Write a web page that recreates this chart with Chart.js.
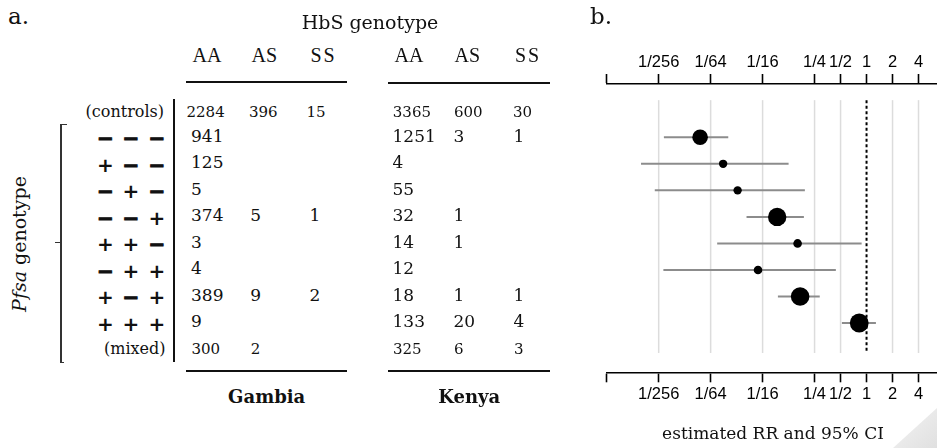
<!DOCTYPE html>
<html><head><meta charset="utf-8">
<script src="https://cdn.jsdelivr.net/npm/chart.js@4/dist/chart.umd.min.js"></script>
<style>
html,body{margin:0;padding:0;width:937px;height:448px;overflow:hidden;background:#fff;}
#root{position:relative;width:937px;height:448px;overflow:hidden;background:#fff;}
.t{position:absolute;white-space:nowrap;line-height:1;color:#111;}
.ln{position:absolute;background:#111;}
#chartBox{position:absolute;left:560px;top:0;width:440px;height:448px;}
#curl{position:absolute;left:893px;top:408px;width:44px;height:40px;background:linear-gradient(135deg,#f4f4f4,#e0e0e0);clip-path:polygon(100% 0,100% 100%,0 100%);}
</style></head><body><div id="root">
<div id="curl"></div>
<div id="chartBox"><canvas id="c" width="440" height="448"></canvas></div>
</div>
<script>
// ---------- data ----------
const hbsGenotypes = ['AA', 'AS', 'SS'];
const countries = ['Gambia', 'Kenya'];
const pfsaGenotypes = [
  ['−','−','−'], ['+','−','−'], ['−','+','−'], ['−','−','+'],
  ['+','+','−'], ['−','+','+'], ['+','−','+'], ['+','+','+']
];
const gambiaControls = [2284, 396, 15];
const kenyaControls  = [3365, 600, 30];
const gambiaCases = [[941,null,null],[125,null,null],[5,null,null],[374,5,1],[3,null,null],[4,null,null],[389,9,2],[9,null,null]];
const kenyaCases  = [[1251,3,1],[4,null,null],[55,null,null],[32,1,null],[14,1,null],[12,null,null],[18,1,1],[133,20,4]];
const gambiaMixed = [300, 2, null];
const kenyaMixed  = [325, 6, 3];

// estimated relative risk and 95% CI, one per Pfsa genotype row
const rrEstimate = [0.0118, 0.0218, 0.0321, 0.0922, 0.159, 0.0553, 0.170, 0.823];
const rrLower    = [0.00449, 0.00244, 0.00352, 0.0407, 0.0186, 0.00443, 0.0940, 0.518];
const rrUpper    = [0.0250, 0.125, 0.193, 0.188, 0.877, 0.441, 0.287, 1.284];

const rrTicks      = [1/1024, 1/256, 1/64, 1/16, 1/4, 1/2, 1, 2, 4, 8];
const rrTickLabels = ['', '1/256', '1/64', '1/16', '1/4', '1/2', '1', '2', '4', ''];

// ---------- table (panel a) ----------
const root = document.getElementById('root');
const FAM = {
  'DejaVu Serif': '"DejaVu Serif", serif',
  'DejaVu Sans': '"DejaVu Sans", sans-serif',
  'Liberation Serif': '"Liberation Serif", "Times New Roman", serif',
  'Liberation Sans': '"Liberation Sans", Arial, sans-serif'
};
const ASC = {'DejaVu Serif':0.846, 'DejaVu Sans':0.846, 'Liberation Serif':0.8375, 'Liberation Sans':0.847};
function txt(s, x, base, fam, size, align, extra){
  const d = document.createElement('div');
  d.className = 't'; d.textContent = s;
  d.style.fontFamily = FAM[fam];
  d.style.fontSize = size + 'px';
  d.style.left = x + 'px';
  d.style.top = (base - ASC[fam]*size) + 'px';
  if (align === 'center') d.style.transform = 'translateX(-50%)';
  else if (align === 'right') d.style.transform = 'translateX(-100%)';
  if (extra) Object.assign(d.style, extra);
  root.appendChild(d); return d;
}
function rule(x1, y, x2, h, color){
  const d = document.createElement('div'); d.className = 'ln';
  d.style.left = x1 + 'px'; d.style.top = y + 'px';
  d.style.width = (x2 - x1) + 'px'; d.style.height = h + 'px';
  if (color) d.style.background = color;
  root.appendChild(d);
}
function vrule(x, y1, y2, w, color){
  const d = document.createElement('div'); d.className = 'ln';
  d.style.left = x + 'px'; d.style.top = y1 + 'px';
  d.style.width = w + 'px'; d.style.height = (y2 - y1) + 'px';
  if (color) d.style.background = color;
  root.appendChild(d);
}

txt('a.', 8, 24, 'DejaVu Serif', 23);
txt('b.', 590, 24.5, 'DejaVu Serif', 23);
txt('HbS genotype', 370, 29.5, 'DejaVu Serif', 19, 'center');

const colX = { Gambia: [191, 250.3, 309.5], Kenya: [392.5, 453.5, 513.5] };
const headX = { Gambia: [192.5, 251.5, 310.5], Kenya: [394.5, 454.5, 515] };
const ctrlX = { Gambia: [186.5, 249, 306.5], Kenya: [392.8, 454, 513] };
const controls = { Gambia: gambiaControls, Kenya: kenyaControls };
const cases = { Gambia: gambiaCases, Kenya: kenyaCases };
const mixed = { Gambia: gambiaMixed, Kenya: kenyaMixed };
const underline = { Gambia: [185.7, 347.3], Kenya: [388.3, 550] };
const countryCenter = { Gambia: 266.7, Kenya: 469.2 };

const rowBase0 = 142.3, rowPitch = 26.5;
countries.forEach(c => {
  hbsGenotypes.forEach((g, j) => txt(g, headX[c][j], 61.7, 'Liberation Serif', 20, null, {letterSpacing: g === 'SS' ? '2px' : '0px'}));
  rule(underline[c][0], c === 'Gambia' ? 81.4 : 82.2, underline[c][1], 2);
  controls[c].forEach((v, j) => { if (v != null) txt(String(v), ctrlX[c][j], 117.3, 'DejaVu Serif', 15); });
  cases[c].forEach((row, i) => row.forEach((v, j) => {
    if (v != null) txt(String(v), colX[c][j], rowBase0 + i*rowPitch, 'DejaVu Serif', 17);
  }));
  mixed[c].forEach((v, j) => { if (v != null) txt(String(v), colX[c][j] + 0.5, rowBase0 + 8*rowPitch, 'DejaVu Serif', 15); });
  rule(underline[c][0], 369.8, underline[c][1], 1.8);
  txt(c, countryCenter[c], 403.3, 'DejaVu Serif', 18, 'center', {fontWeight: 'bold'});
});

txt('(controls)', 164, 117.3, 'DejaVu Serif', 16, 'right');
txt('(mixed)', 165.5, rowBase0 + 8*rowPitch, 'DejaVu Serif', 16, 'right');
const symX = [105.3, 131, 157];
pfsaGenotypes.forEach((row, i) => row.forEach((s, j) => {
  const d = txt(s, symX[j], 137.8 + i*rowPitch + 0.36*20, 'DejaVu Sans', 20, 'center', {fontWeight: 'bold', color: '#111'});
  if (s === '−') d.style.webkitTextStroke = '1px #111';
}));
vrule(172.6, 99, 361.5, 2);
// bracket for Pfsa genotype
vrule(60.4, 124, 363.2, 1.3, '#333');
rule(60.4, 123.8, 67, 1.3, '#333');
rule(60.4, 362, 64.5, 1.3, '#333');
rule(54.5, 241.7, 61, 1.3, '#333');
const pf = document.createElement('div');
pf.className = 't';
pf.style.fontFamily = FAM['DejaVu Serif']; pf.style.fontSize = '19px';
pf.style.left = '19.4px'; pf.style.top = '244px';
pf.style.transform = 'translate(-50%,-50%) rotate(-90deg)';
pf.innerHTML = '<i>Pfsa</i> genotype';
root.appendChild(pf);

txt('estimated RR and 95% CI', 773, 439, 'DejaVu Serif', 17, 'center');

// ---------- forest plot (panel b) ----------
const pointRadii = [7.8, 4.2, 4.2, 9.2, 4.3, 4.3, 9.3, 9.4];
const rows = rrEstimate.map((_, i) => i + 1);

const refLines = {
  id: 'refLines',
  beforeDatasetsDraw(chart){
    const {ctx, scales: {x, y}} = chart;
    const top = y.getPixelForValue(-0.4), bot = y.getPixelForValue(9.13);
    ctx.save();
    ctx.strokeStyle = '#dcdcdc'; ctx.lineWidth = 1.5;
    rrTicks.slice(1, -1).forEach(v => {
      if (v === 1) return;
      const px = x.getPixelForValue(v);
      ctx.beginPath(); ctx.moveTo(px, top); ctx.lineTo(px, bot); ctx.stroke();
    });
    ctx.strokeStyle = '#000'; ctx.lineWidth = 2; ctx.setLineDash([3, 2.5]);
    const p1 = x.getPixelForValue(1);
    ctx.beginPath(); ctx.moveTo(p1, top); ctx.lineTo(p1, bot); ctx.stroke();
    ctx.restore();
  }
};

const ciSets = rows.map((r, i) => ({
  data: [{x: rrLower[i], y: r}, {x: rrUpper[i], y: r}],
  showLine: true, borderColor: '#8c8c8c', borderWidth: 2,
  pointRadius: 0, order: 1
}));
const pointSet = {
  data: rows.map((r, i) => ({x: rrEstimate[i], y: r})),
  pointRadius: pointRadii, pointBackgroundColor: '#000',
  pointBorderWidth: 0, showLine: false, order: 0
};

function axisCfg(pos, h){
  return {
    type: 'logarithmic', position: pos,
    min: rrTicks[0], max: rrTicks[rrTicks.length - 1],
    afterBuildTicks: s => { s.ticks = rrTicks.map(v => ({value: v})); },
    afterFit: s => { s.height = h; },
    ticks: {
      autoSkip: false, maxRotation: 0, minRotation: 0, padding: 2, color: '#000',
      font: {family: '"Liberation Sans", Arial, sans-serif', size: 16.5},
      callback: (v, i) => rrTickLabels[i]
    },
    grid: {drawOnChartArea: false, drawTicks: true, tickLength: 10, tickColor: '#000', tickWidth: 1.6},
    border: {display: true, color: '#000', width: 1.6}
  };
}

new Chart(document.getElementById('c'), {
  type: 'scatter',
  data: {datasets: [pointSet, ...ciSets]},
  options: {
    responsive: false, animation: false, events: [],
    plugins: {legend: {display: false}, tooltip: {enabled: false}},
    layout: {padding: {left: 46.7, right: 55.5, top: 0, bottom: 0}},
    scales: {
      x: axisCfg('bottom', 75.7),
      x2: axisCfg('top', 84),
      y: {type: 'linear', display: false, reverse: true, min: -1.009, max: 9.858}
    }
  },
  plugins: [refLines]
});
</script>
</body></html>
